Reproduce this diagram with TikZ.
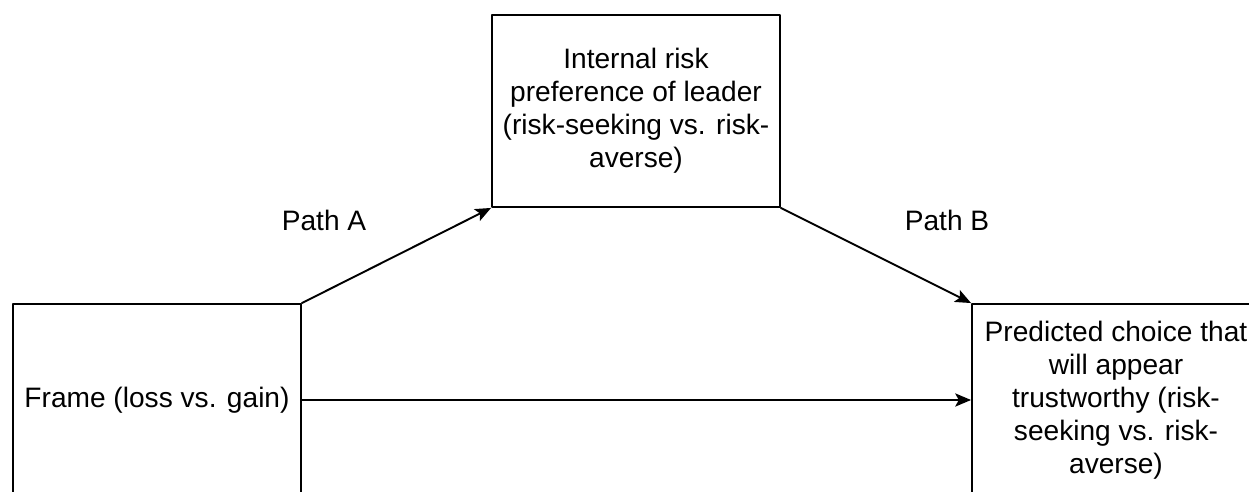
\documentclass[tikz,border=0pt]{standalone}
\usepackage{fontspec}
\setmainfont{Liberation Sans}
\usetikzlibrary{arrows.meta}
\tikzset{box/.style={draw, line width=1.1pt, rectangle, align=center, inner sep=0pt, minimum width=5.76cm, minimum height=3.84cm, font=\fontsize{16}{18.8}\selectfont},
	lbl/.style={font=\fontsize{16}{18.8}\selectfont}}

\begin{document}
\begin{tikzpicture}[line cap=round,line join=round,>={Stealth[length=9pt,width=7.5pt,inset=2pt]},x=0.02cm,y=0.02cm]
		\useasboundingbox (0,0) rectangle (1249,491);
		\clip (0,0) rectangle (1249,491);
		% boxes
		\node [box] (frame) at (157,91) {Frame (loss vs. gain)};
		\node [box] (pref) at (636,380) {Internal risk\\preference of leader\\(risk-seeking vs. risk-\\averse)};
		\node [box] (choice) at (1116,91) {Predicted choice that\\will appear\\trustworthy (risk-\\seeking vs. risk-\\averse)};
		% paths
		\draw [line width=1.1pt,->] (frame.north east)-- (pref.south west);
		\draw [line width=1.1pt,->] (pref.south east)-- (choice.north west);
		\draw [line width=1.1pt,->] (frame.east)-- (choice.west);
		\node [lbl] (pathA) at (324,271) {Path A};
		\node [lbl] (pathB) at (947,271) {Path B};
	\end{tikzpicture}
\end{document}
